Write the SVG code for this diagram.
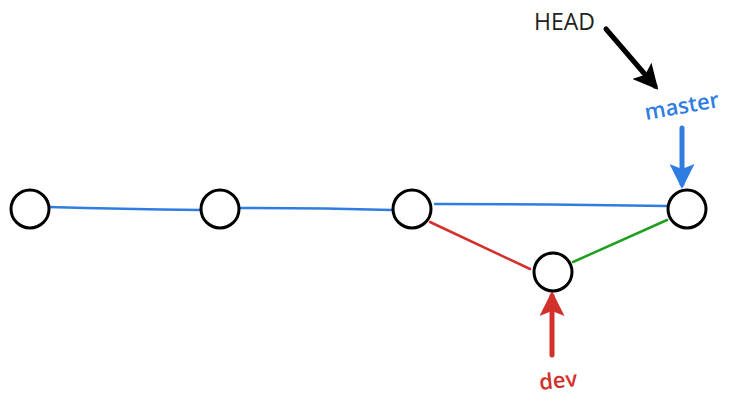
<svg xmlns="http://www.w3.org/2000/svg" width="739" height="402" viewBox="0 0 739 402">
<style>
.node{fill:#fff;stroke:#000;stroke-width:3}
.edge{fill:none;stroke-width:2.5;stroke-linecap:round}
.lbl{font-family:"Open Sans","Liberation Sans",sans-serif;font-size:22px;font-weight:600}
.ptr{fill:none;stroke-width:5;stroke-linecap:round}
</style>
<defs>
<marker id="hBlack" viewBox="0 0 10 10" refX="8" refY="5" markerWidth="5" markerHeight="5" markerUnits="strokeWidth" orient="auto"><path d="M0,0 L10,5 L0,10 L2,5 Z" fill="#000"/></marker>
<marker id="hBlue" viewBox="0 0 10 10" refX="8" refY="5" markerWidth="5" markerHeight="5" markerUnits="strokeWidth" orient="auto"><path d="M0,0 L10,5 L0,10 L2,5 Z" fill="#2f7de1"/></marker>
<marker id="hRed" viewBox="0 0 10 10" refX="8" refY="5" markerWidth="5" markerHeight="5" markerUnits="strokeWidth" orient="auto"><path d="M0,0 L10,5 L0,10 L2,5 Z" fill="#d3302c"/></marker>
</defs>
<g id="connectors">
<path class="edge" stroke="#2f7de1" d="M49,207 Q120,209 201,210"/>
<path class="edge" stroke="#2f7de1" d="M240,208 Q320,208 392,210"/>
<path class="edge" stroke="#2f7de1" d="M435,204 Q560,204 667,206"/>
<path class="edge" stroke="#d3302c" d="M430,222 L530,269"/>
<path class="edge" stroke="#20a020" d="M573,262 L667,220"/>
<path class="ptr" stroke="#000" d="M606,29 L655,86" marker-end="url(#hBlack)"/>
<path class="ptr" stroke="#2f7de1" d="M682,128 L682,184" marker-end="url(#hBlue)"/>
<path class="ptr" stroke="#d3302c" d="M552,355 L552,296" marker-end="url(#hRed)"/>
</g>
<g id="n1"><circle class="node" cx="30" cy="209" r="19"/></g>
<g id="n2"><circle class="node" cx="220" cy="209" r="19"/></g>
<g id="n3"><circle class="node" cx="412" cy="209" r="19"/></g>
<g id="n4"><circle class="node" cx="687" cy="209" r="19"/></g>
<g id="n5"><circle class="node" cx="553" cy="272" r="19"/></g>
<g id="HEAD"><text class="lbl" x="534" y="30" fill="#222" style="font-weight:400;font-size:23px">HEAD</text></g>
<g id="master"><text class="lbl" x="646" y="120" fill="#2f7de1" transform="rotate(-10 646 120)">master</text></g>
<g id="dev"><text class="lbl" x="540" y="390" fill="#d3302c" transform="rotate(-6 540 390)">dev</text></g>
</svg>
